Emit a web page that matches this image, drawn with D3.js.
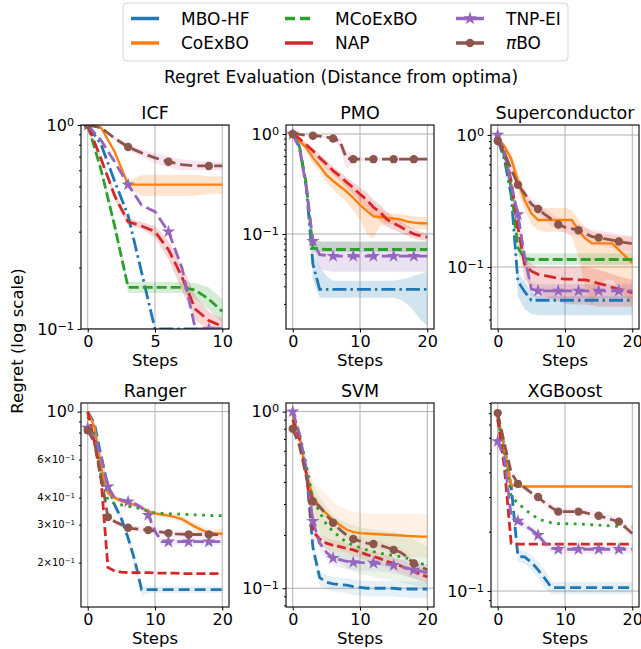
<!DOCTYPE html>
<html>
<head>
<meta charset="utf-8">
<script src="https://cdn.jsdelivr.net/npm/d3@7"></script>
<style>
  body { margin: 0; background: #fff; }
  text { font-family: "DejaVu Sans", sans-serif; }
</style>
</head>
<body>
<svg id="chart" width="641" height="649"></svg>
<script>
// ---- data ----
const methods = ["MBO-HF", "CoExBO", "MCoExBO", "NAP", "TNP-EI", "πBO"];

const stepsShort = [0, 1, 2, 3, 4, 5, 6, 7, 8, 9, 10];
const stepsLong = [0, 1, 2, 3, 4, 5, 6, 7, 8, 9, 10, 11, 12, 13, 14, 15, 16, 17, 18, 19, 20];

// ICF
const icfMean = {
  "MBO-HF": [1.0, 0.80, 0.53, 0.36, 0.19, 0.1, 0.1, 0.1, 0.1, 0.1, 0.1],
  "CoExBO": [1.0, 0.97, 0.74, 0.51, 0.51, 0.51, 0.51, 0.51, 0.51, 0.51, 0.51],
  "MCoExBO": [1.0, 0.6, 0.32, 0.16, 0.16, 0.16, 0.16, 0.16, 0.155, 0.14, 0.122],
  "NAP": [1.0, 0.68, 0.45, 0.335, 0.32, 0.3, 0.245, 0.18, 0.125, 0.11, 0.103],
  "TNP-EI": [1.0, 0.84, 0.66, 0.51, 0.405, 0.376, 0.3, 0.2, 0.1, 0.1, 0.1],
  "πBO": [1.0, 0.97, 0.86, 0.78, 0.73, 0.69, 0.66, 0.64, 0.63, 0.63, 0.63]
};
const icfLow = {
  "CoExBO": [1.0, 0.96, 0.72, 0.49, 0.45, 0.45, 0.45, 0.45, 0.45, 0.46, 0.46],
  "MCoExBO": [1.0, 0.58, 0.3, 0.15, 0.15, 0.15, 0.15, 0.15, 0.14, 0.125, 0.108],
  "NAP": [1.0, 0.66, 0.43, 0.32, 0.31, 0.28, 0.22, 0.155, 0.11, 0.1, 0.095],
  "πBO": [1.0, 0.96, 0.84, 0.75, 0.7, 0.65, 0.62, 0.6, 0.6, 0.6, 0.6]
};
const icfHigh = {
  "CoExBO": [1.0, 0.98, 0.76, 0.53, 0.57, 0.57, 0.57, 0.57, 0.57, 0.56, 0.56],
  "MCoExBO": [1.0, 0.62, 0.34, 0.17, 0.17, 0.17, 0.17, 0.17, 0.168, 0.16, 0.14],
  "NAP": [1.0, 0.7, 0.47, 0.35, 0.335, 0.32, 0.27, 0.205, 0.145, 0.122, 0.112],
  "πBO": [1.0, 0.98, 0.88, 0.81, 0.76, 0.73, 0.7, 0.68, 0.67, 0.66, 0.66]
};

// PMO
const pmoMean = {
  "MBO-HF": [1.0, 0.75, 0.3, 0.05, 0.028, 0.028, 0.028, 0.028, 0.028, 0.028, 0.028, 0.028, 0.028, 0.028, 0.028, 0.028, 0.028, 0.028, 0.028, 0.028, 0.028],
  "CoExBO": [1.0, 0.85, 0.73, 0.58, 0.48, 0.39, 0.34, 0.3, 0.265, 0.23, 0.195, 0.17, 0.15, 0.148, 0.145, 0.143, 0.14, 0.133, 0.13, 0.128, 0.128],
  "MCoExBO": [1.0, 0.75, 0.32, 0.072, 0.071, 0.07, 0.07, 0.07, 0.07, 0.07, 0.07, 0.07, 0.07, 0.07, 0.07, 0.07, 0.07, 0.07, 0.07, 0.07, 0.07],
  "NAP": [1.0, 0.9, 0.78, 0.68, 0.58, 0.5, 0.43, 0.38, 0.33, 0.29, 0.25, 0.22, 0.185, 0.165, 0.14, 0.128, 0.118, 0.108, 0.1, 0.096, 0.093],
  "TNP-EI": [1.0, 0.72, 0.3, 0.085, 0.062, 0.061, 0.06, 0.06, 0.06, 0.06, 0.06, 0.06, 0.06, 0.06, 0.06, 0.06, 0.06, 0.06, 0.06, 0.06, 0.06],
  "πBO": [1.0, 0.99, 0.97, 0.96, 0.95, 0.93, 0.9, 0.85, 0.57, 0.56, 0.56, 0.56, 0.56, 0.56, 0.56, 0.56, 0.56, 0.56, 0.56, 0.56, 0.56]
};
const pmoLow = {
  "MBO-HF": [1.0, 0.7, 0.26, 0.035, 0.023, 0.023, 0.023, 0.023, 0.023, 0.023, 0.023, 0.023, 0.023, 0.023, 0.023, 0.023, 0.022, 0.02, 0.017, 0.014, 0.012],
  "CoExBO": [1.0, 0.8, 0.66, 0.5, 0.42, 0.33, 0.28, 0.24, 0.21, 0.17, 0.14, 0.1, 0.09, 0.12, 0.125, 0.125, 0.12, 0.115, 0.112, 0.11, 0.11],
  "MCoExBO": [1.0, 0.72, 0.29, 0.065, 0.066, 0.066, 0.066, 0.066, 0.066, 0.066, 0.066, 0.066, 0.066, 0.066, 0.066, 0.066, 0.066, 0.066, 0.066, 0.066, 0.066],
  "NAP": [1.0, 0.87, 0.74, 0.63, 0.53, 0.45, 0.39, 0.34, 0.29, 0.25, 0.21, 0.18, 0.15, 0.135, 0.118, 0.11, 0.103, 0.096, 0.09, 0.087, 0.085],
  "TNP-EI": [1.0, 0.69, 0.27, 0.07, 0.045, 0.043, 0.042, 0.042, 0.042, 0.042, 0.042, 0.042, 0.042, 0.042, 0.042, 0.042, 0.042, 0.042, 0.042, 0.042, 0.042],
  "πBO": [1.0, 0.98, 0.96, 0.95, 0.93, 0.9, 0.86, 0.74, 0.45, 0.52, 0.53, 0.54, 0.54, 0.54, 0.54, 0.54, 0.54, 0.54, 0.54, 0.54, 0.54]
};
const pmoHigh = {
  "MBO-HF": [1.0, 0.8, 0.34, 0.065, 0.047, 0.038, 0.034, 0.034, 0.034, 0.034, 0.034, 0.034, 0.034, 0.034, 0.034, 0.034, 0.035, 0.036, 0.038, 0.04, 0.042],
  "CoExBO": [1.0, 0.9, 0.8, 0.66, 0.56, 0.47, 0.41, 0.37, 0.33, 0.29, 0.25, 0.22, 0.19, 0.175, 0.165, 0.16, 0.158, 0.155, 0.15, 0.148, 0.148],
  "MCoExBO": [1.0, 0.78, 0.35, 0.085, 0.084, 0.084, 0.084, 0.084, 0.084, 0.084, 0.084, 0.084, 0.084, 0.084, 0.084, 0.084, 0.084, 0.084, 0.084, 0.084, 0.084],
  "NAP": [1.0, 0.93, 0.82, 0.73, 0.63, 0.55, 0.47, 0.42, 0.37, 0.33, 0.29, 0.26, 0.22, 0.195, 0.165, 0.148, 0.135, 0.122, 0.112, 0.106, 0.102],
  "TNP-EI": [1.0, 0.75, 0.33, 0.09, 0.084, 0.084, 0.084, 0.084, 0.084, 0.084, 0.084, 0.084, 0.084, 0.084, 0.084, 0.084, 0.084, 0.084, 0.084, 0.084, 0.084],
  "πBO": [1.0, 1.0, 0.99, 0.98, 0.97, 0.96, 0.94, 0.92, 0.7, 0.6, 0.59, 0.58, 0.58, 0.58, 0.58, 0.58, 0.58, 0.58, 0.58, 0.58, 0.58]
};

// Superconductor
const supMean = {
  "MBO-HF": [0.93, 0.65, 0.35, 0.078, 0.065, 0.056, 0.056, 0.056, 0.056, 0.056, 0.056, 0.056, 0.056, 0.056, 0.056, 0.056, 0.056, 0.056, 0.056, 0.056, 0.056],
  "CoExBO": [0.95, 0.82, 0.66, 0.45, 0.32, 0.255, 0.227, 0.227, 0.227, 0.227, 0.227, 0.227, 0.19, 0.165, 0.151, 0.151, 0.151, 0.151, 0.135, 0.12, 0.107],
  "MCoExBO": [0.97, 0.7, 0.4, 0.14, 0.116, 0.114, 0.114, 0.114, 0.114, 0.114, 0.114, 0.114, 0.114, 0.114, 0.114, 0.114, 0.114, 0.114, 0.114, 0.114, 0.114],
  "NAP": [0.95, 0.75, 0.45, 0.2, 0.105, 0.093, 0.088, 0.086, 0.084, 0.082, 0.081, 0.081, 0.08, 0.08, 0.078, 0.075, 0.073, 0.07, 0.068, 0.066, 0.064],
  "TNP-EI": [1.0, 0.75, 0.42, 0.25, 0.12, 0.068, 0.066, 0.066, 0.066, 0.066, 0.066, 0.066, 0.066, 0.066, 0.066, 0.066, 0.066, 0.066, 0.066, 0.066, 0.066],
  "πBO": [0.9, 0.73, 0.55, 0.42, 0.36, 0.3, 0.275, 0.25, 0.23, 0.21, 0.2, 0.195, 0.19, 0.18, 0.17, 0.167, 0.163, 0.16, 0.156, 0.153, 0.15]
};
const supLow = {
  "MBO-HF": [0.91, 0.62, 0.32, 0.06, 0.048, 0.044, 0.043, 0.043, 0.043, 0.043, 0.043, 0.043, 0.043, 0.043, 0.043, 0.043, 0.043, 0.043, 0.043, 0.043, 0.043],
  "CoExBO": [0.93, 0.78, 0.6, 0.38, 0.27, 0.21, 0.19, 0.185, 0.185, 0.185, 0.185, 0.17, 0.12, 0.07, 0.05, 0.07, 0.08, 0.08, 0.07, 0.06, 0.05],
  "MCoExBO": [0.96, 0.67, 0.37, 0.125, 0.104, 0.104, 0.104, 0.104, 0.104, 0.104, 0.104, 0.104, 0.104, 0.104, 0.104, 0.104, 0.104, 0.104, 0.104, 0.104, 0.104],
  "NAP": [0.93, 0.72, 0.42, 0.17, 0.08, 0.07, 0.063, 0.06, 0.057, 0.055, 0.053, 0.052, 0.052, 0.052, 0.051, 0.05, 0.05, 0.05, 0.05, 0.05, 0.05],
  "TNP-EI": [1.0, 0.72, 0.39, 0.22, 0.1, 0.06, 0.058, 0.058, 0.058, 0.058, 0.058, 0.058, 0.058, 0.058, 0.058, 0.058, 0.058, 0.058, 0.058, 0.058, 0.058],
  "πBO": [0.88, 0.7, 0.52, 0.39, 0.33, 0.27, 0.25, 0.225, 0.205, 0.19, 0.18, 0.175, 0.17, 0.16, 0.15, 0.147, 0.143, 0.14, 0.136, 0.133, 0.13]
};
const supHigh = {
  "MBO-HF": [0.95, 0.68, 0.38, 0.09, 0.078, 0.064, 0.06, 0.06, 0.06, 0.06, 0.06, 0.06, 0.06, 0.06, 0.06, 0.06, 0.06, 0.06, 0.06, 0.06, 0.06],
  "CoExBO": [0.97, 0.86, 0.72, 0.52, 0.38, 0.3, 0.28, 0.28, 0.28, 0.28, 0.28, 0.27, 0.23, 0.2, 0.185, 0.18, 0.178, 0.175, 0.172, 0.17, 0.168],
  "MCoExBO": [0.98, 0.73, 0.43, 0.155, 0.127, 0.127, 0.127, 0.127, 0.127, 0.127, 0.127, 0.127, 0.127, 0.127, 0.127, 0.127, 0.127, 0.127, 0.127, 0.127, 0.127],
  "NAP": [0.97, 0.78, 0.48, 0.23, 0.12, 0.105, 0.1, 0.1, 0.1, 0.1, 0.1, 0.1, 0.1, 0.1, 0.098, 0.095, 0.092, 0.088, 0.085, 0.082, 0.08],
  "TNP-EI": [1.0, 0.78, 0.45, 0.28, 0.14, 0.076, 0.074, 0.074, 0.074, 0.074, 0.074, 0.074, 0.074, 0.074, 0.074, 0.074, 0.074, 0.074, 0.074, 0.074, 0.074],
  "πBO": [0.92, 0.76, 0.58, 0.45, 0.39, 0.33, 0.3, 0.275, 0.255, 0.235, 0.225, 0.218, 0.212, 0.202, 0.192, 0.188, 0.185, 0.182, 0.178, 0.175, 0.172]
};

// Ranger
const rangerMean = {
  "MBO-HF": [1.0, 0.88, 0.62, 0.45, 0.37, 0.32, 0.26, 0.205, 0.15, 0.15, 0.15, 0.15, 0.15, 0.15, 0.15, 0.15, 0.15, 0.15, 0.15, 0.15, 0.15],
  "CoExBO": [1.0, 0.85, 0.55, 0.42, 0.4, 0.385, 0.378, 0.37, 0.36, 0.345, 0.338, 0.334, 0.33, 0.325, 0.318, 0.305, 0.293, 0.283, 0.275, 0.273, 0.272],
  "MCoExBO": [0.95, 0.78, 0.5, 0.39, 0.375, 0.37, 0.365, 0.36, 0.355, 0.345, 0.34, 0.338, 0.337, 0.336, 0.335, 0.334, 0.333, 0.332, 0.331, 0.33, 0.33],
  "NAP": [1.0, 0.72, 0.48, 0.19, 0.183, 0.181, 0.18, 0.18, 0.18, 0.18, 0.179, 0.179, 0.179, 0.179, 0.178, 0.178, 0.178, 0.178, 0.178, 0.178, 0.178],
  "TNP-EI": [0.84, 0.76, 0.62, 0.45, 0.4, 0.39, 0.383, 0.375, 0.36, 0.332, 0.28, 0.25, 0.25, 0.25, 0.25, 0.25, 0.25, 0.25, 0.25, 0.25, 0.25],
  "πBO": [0.82, 0.72, 0.5, 0.325, 0.31, 0.3, 0.29, 0.287, 0.285, 0.283, 0.28, 0.277, 0.274, 0.272, 0.271, 0.27, 0.27, 0.27, 0.27, 0.27, 0.27]
};
const rangerLow = {
  "MBO-HF": [1.0, 0.86, 0.6, 0.43, 0.355, 0.305, 0.245, 0.19, 0.14, 0.145, 0.145, 0.145, 0.145, 0.145, 0.145, 0.145, 0.145, 0.145, 0.145, 0.145, 0.145],
  "CoExBO": [1.0, 0.83, 0.53, 0.41, 0.39, 0.375, 0.368, 0.36, 0.35, 0.335, 0.328, 0.324, 0.32, 0.314, 0.306, 0.293, 0.28, 0.27, 0.262, 0.26, 0.258],
  "TNP-EI": [0.82, 0.74, 0.6, 0.435, 0.39, 0.38, 0.372, 0.364, 0.35, 0.32, 0.27, 0.242, 0.242, 0.242, 0.242, 0.242, 0.242, 0.242, 0.242, 0.242, 0.242],
  "πBO": [0.8, 0.7, 0.48, 0.315, 0.3, 0.29, 0.28, 0.277, 0.275, 0.272, 0.269, 0.266, 0.263, 0.261, 0.26, 0.259, 0.259, 0.259, 0.259, 0.259, 0.259]
};
const rangerHigh = {
  "MBO-HF": [1.0, 0.9, 0.64, 0.47, 0.385, 0.335, 0.275, 0.22, 0.158, 0.155, 0.155, 0.155, 0.155, 0.155, 0.155, 0.155, 0.155, 0.155, 0.155, 0.155, 0.155],
  "CoExBO": [1.0, 0.87, 0.57, 0.43, 0.41, 0.395, 0.388, 0.38, 0.37, 0.355, 0.348, 0.344, 0.34, 0.336, 0.33, 0.318, 0.306, 0.296, 0.289, 0.287, 0.286],
  "TNP-EI": [0.86, 0.78, 0.64, 0.465, 0.41, 0.4, 0.394, 0.386, 0.37, 0.344, 0.29, 0.258, 0.258, 0.258, 0.258, 0.258, 0.258, 0.258, 0.258, 0.258, 0.258],
  "πBO": [0.84, 0.74, 0.52, 0.335, 0.32, 0.31, 0.3, 0.297, 0.295, 0.294, 0.291, 0.288, 0.285, 0.283, 0.282, 0.281, 0.281, 0.281, 0.281, 0.281, 0.281]
};

// SVM
const svmMean = {
  "MBO-HF": [0.98, 0.73, 0.47, 0.17, 0.115, 0.108, 0.106, 0.105, 0.104, 0.102, 0.101, 0.1, 0.1, 0.1, 0.1, 0.1, 0.099, 0.099, 0.099, 0.099, 0.099],
  "CoExBO": [0.94, 0.72, 0.45, 0.33, 0.29, 0.265, 0.244, 0.228, 0.215, 0.208, 0.205, 0.204, 0.203, 0.202, 0.201, 0.2, 0.199, 0.198, 0.197, 0.196, 0.196],
  "MCoExBO": [0.9, 0.75, 0.5, 0.32, 0.27, 0.23, 0.21, 0.195, 0.182, 0.175, 0.17, 0.165, 0.161, 0.158, 0.155, 0.153, 0.151, 0.148, 0.143, 0.138, 0.135],
  "NAP": [0.9, 0.7, 0.45, 0.21, 0.19, 0.18, 0.175, 0.172, 0.168, 0.165, 0.16, 0.155, 0.151, 0.147, 0.142, 0.138, 0.134, 0.129, 0.124, 0.12, 0.116],
  "TNP-EI": [1.0, 0.75, 0.47, 0.24, 0.18, 0.16, 0.148, 0.145, 0.142, 0.14, 0.14, 0.139, 0.139, 0.138, 0.137, 0.135, 0.133, 0.13, 0.127, 0.125, 0.122],
  "πBO": [0.8, 0.64, 0.43, 0.31, 0.29, 0.26, 0.235, 0.215, 0.2, 0.19, 0.185, 0.18, 0.178, 0.175, 0.17, 0.165, 0.16, 0.15, 0.138, 0.132, 0.127]
};
const svmLow = {
  "MBO-HF": [0.96, 0.7, 0.44, 0.15, 0.103, 0.098, 0.096, 0.095, 0.094, 0.092, 0.091, 0.09, 0.09, 0.09, 0.09, 0.09, 0.089, 0.089, 0.088, 0.088, 0.088],
  "CoExBO": [0.92, 0.66, 0.38, 0.25, 0.21, 0.19, 0.175, 0.165, 0.16, 0.155, 0.152, 0.15, 0.15, 0.15, 0.15, 0.15, 0.15, 0.15, 0.15, 0.15, 0.15],
  "MCoExBO": [0.88, 0.7, 0.44, 0.26, 0.2, 0.17, 0.15, 0.14, 0.13, 0.125, 0.12, 0.118, 0.116, 0.114, 0.112, 0.11, 0.108, 0.106, 0.104, 0.102, 0.1],
  "NAP": [0.88, 0.67, 0.42, 0.19, 0.175, 0.167, 0.163, 0.16, 0.156, 0.153, 0.148, 0.143, 0.139, 0.135, 0.13, 0.126, 0.122, 0.118, 0.114, 0.11, 0.106],
  "TNP-EI": [1.0, 0.72, 0.44, 0.22, 0.165, 0.146, 0.134, 0.131, 0.128, 0.126, 0.126, 0.125, 0.125, 0.124, 0.123, 0.121, 0.119, 0.116, 0.113, 0.111, 0.108],
  "πBO": [0.78, 0.62, 0.41, 0.295, 0.275, 0.247, 0.223, 0.204, 0.19, 0.18, 0.175, 0.17, 0.168, 0.165, 0.16, 0.155, 0.15, 0.14, 0.129, 0.123, 0.118]
};
const svmHigh = {
  "MBO-HF": [1.0, 0.76, 0.5, 0.19, 0.127, 0.118, 0.116, 0.115, 0.114, 0.112, 0.111, 0.11, 0.11, 0.11, 0.11, 0.11, 0.109, 0.109, 0.109, 0.109, 0.109],
  "CoExBO": [0.96, 0.78, 0.52, 0.4, 0.37, 0.34, 0.31, 0.29, 0.28, 0.272, 0.268, 0.266, 0.265, 0.265, 0.265, 0.265, 0.265, 0.265, 0.265, 0.265, 0.265],
  "MCoExBO": [0.92, 0.8, 0.56, 0.38, 0.33, 0.29, 0.26, 0.245, 0.235, 0.228, 0.222, 0.218, 0.215, 0.212, 0.21, 0.208, 0.205, 0.2, 0.19, 0.18, 0.17],
  "NAP": [0.92, 0.73, 0.48, 0.23, 0.205, 0.193, 0.187, 0.184, 0.18, 0.177, 0.172, 0.167, 0.163, 0.159, 0.154, 0.15, 0.146, 0.14, 0.135, 0.13, 0.126],
  "TNP-EI": [1.0, 0.78, 0.5, 0.26, 0.195, 0.174, 0.162, 0.159, 0.156, 0.154, 0.154, 0.153, 0.153, 0.152, 0.151, 0.149, 0.147, 0.144, 0.141, 0.139, 0.136],
  "πBO": [0.82, 0.66, 0.45, 0.325, 0.305, 0.273, 0.247, 0.226, 0.21, 0.2, 0.195, 0.19, 0.188, 0.185, 0.18, 0.175, 0.17, 0.16, 0.147, 0.141, 0.136]
};

// XGBoost
const xgbMean = {
  "MBO-HF": [0.77, 0.54, 0.34, 0.15, 0.149, 0.14, 0.128, 0.116, 0.104, 0.104, 0.104, 0.104, 0.104, 0.104, 0.104, 0.104, 0.104, 0.104, 0.104, 0.104, 0.104],
  "CoExBO": [0.77, 0.52, 0.345, 0.339, 0.339, 0.339, 0.339, 0.339, 0.339, 0.339, 0.339, 0.339, 0.339, 0.339, 0.339, 0.339, 0.339, 0.339, 0.339, 0.339, 0.339],
  "MCoExBO": [0.74, 0.5, 0.3, 0.28, 0.26, 0.245, 0.233, 0.226, 0.222, 0.22, 0.22, 0.219, 0.219, 0.218, 0.217, 0.216, 0.215, 0.214, 0.213, 0.212, 0.212],
  "NAP": [0.75, 0.42, 0.175, 0.173, 0.173, 0.173, 0.173, 0.173, 0.173, 0.173, 0.173, 0.173, 0.173, 0.173, 0.173, 0.173, 0.173, 0.173, 0.173, 0.173, 0.173],
  "TNP-EI": [0.575, 0.47, 0.24, 0.227, 0.215, 0.205, 0.192, 0.175, 0.165, 0.163, 0.163, 0.163, 0.163, 0.163, 0.163, 0.163, 0.163, 0.163, 0.163, 0.163, 0.163],
  "πBO": [0.8, 0.56, 0.4, 0.35, 0.335, 0.315, 0.3, 0.28, 0.265, 0.253, 0.253, 0.253, 0.253, 0.25, 0.245, 0.241, 0.236, 0.23, 0.225, 0.21, 0.196]
};
const xgbLow = {
  "MBO-HF": [0.75, 0.52, 0.32, 0.14, 0.138, 0.128, 0.116, 0.104, 0.097, 0.097, 0.097, 0.097, 0.097, 0.097, 0.097, 0.097, 0.097, 0.097, 0.097, 0.097, 0.097],
  "CoExBO": [0.76, 0.51, 0.335, 0.333, 0.333, 0.333, 0.333, 0.333, 0.333, 0.333, 0.333, 0.333, 0.333, 0.333, 0.333, 0.333, 0.333, 0.333, 0.333, 0.333, 0.333],
  "TNP-EI": [0.56, 0.455, 0.23, 0.217, 0.205, 0.195, 0.183, 0.167, 0.157, 0.155, 0.155, 0.155, 0.155, 0.155, 0.155, 0.155, 0.155, 0.155, 0.155, 0.155, 0.155],
  "πBO": [0.78, 0.54, 0.385, 0.338, 0.323, 0.303, 0.288, 0.268, 0.253, 0.241, 0.241, 0.241, 0.241, 0.238, 0.233, 0.229, 0.224, 0.218, 0.213, 0.198, 0.184]
};
const xgbHigh = {
  "MBO-HF": [0.79, 0.56, 0.36, 0.16, 0.16, 0.152, 0.14, 0.128, 0.111, 0.111, 0.111, 0.111, 0.111, 0.111, 0.111, 0.111, 0.111, 0.111, 0.111, 0.111, 0.111],
  "CoExBO": [0.78, 0.53, 0.355, 0.345, 0.345, 0.345, 0.345, 0.345, 0.345, 0.345, 0.345, 0.345, 0.345, 0.345, 0.345, 0.345, 0.345, 0.345, 0.345, 0.345, 0.345],
  "TNP-EI": [0.59, 0.485, 0.25, 0.237, 0.225, 0.215, 0.201, 0.183, 0.173, 0.171, 0.171, 0.171, 0.171, 0.171, 0.171, 0.171, 0.171, 0.171, 0.171, 0.171, 0.171],
  "πBO": [0.82, 0.58, 0.415, 0.362, 0.347, 0.327, 0.312, 0.292, 0.277, 0.265, 0.265, 0.265, 0.265, 0.262, 0.257, 0.253, 0.248, 0.242, 0.237, 0.222, 0.208]
};

// ---- styling ----
const FONT = "DejaVu Sans";
const colors = {"MBO-HF": "#1f77b4", "CoExBO": "#ff7f0e", "MCoExBO": "#2ca02c", "NAP": "#d62728", "TNP-EI": "#9467bd", "πBO": "#8c564b"};
const bandColors = {"MBO-HF": "#1f77b4", "CoExBO": "#ff7f0e", "MCoExBO": "#2ca02c", "NAP": "#d62728", "TNP-EI": "#9467bd", "πBO": "#e377c2"};
const dashTop = {"MBO-HF": "14,4,2.5,4", "CoExBO": null, "MCoExBO": "10,4", "NAP": "12,5", "TNP-EI": "12,5", "πBO": "12,5"};
const dashBottom = {"MBO-HF": "11,5", "CoExBO": null, "MCoExBO": "2.8,5.5", "NAP": "9,4", "TNP-EI": "11,5", "πBO": "11,5"};

const PW = 148, PH = 204;
const TICK_FS = 16;

const panels = [
  {title: "ICF", steps: stepsShort, mean: icfMean, low: icfLow, high: icfHigh, left: 81, top: 125, bandAlpha: 0.2,
   xDom: [-0.5, 10.5], yDom: [0.1, 1.0], xTicks: [0, 5, 10], yMajor: [1, 0.1], yMinorLab: [], dash: dashTop},
  {title: "PMO", steps: stepsLong, mean: pmoMean, low: pmoLow, high: pmoHigh, left: 286, top: 125, bandAlpha: 0.2,
   xDom: [-1, 21], yDom: [0.01122, 1.23], xTicks: [0, 10, 20], yMajor: [1, 0.1], yMinorLab: [], dash: dashTop},
  {title: "Superconductor", steps: stepsLong, mean: supMean, low: supLow, high: supHigh, left: 491, top: 125, bandAlpha: 0.2,
   xDom: [-1, 21], yDom: [0.0339, 1.191], xTicks: [0, 10, 20], yMajor: [1, 0.1], yMinorLab: [], dash: dashTop},
  {title: "Ranger", steps: stepsLong, mean: rangerMean, low: rangerLow, high: rangerHigh, left: 81, top: 403, bandAlpha: 0.12,
   xDom: [-1, 21], yDom: [0.1247, 1.096], xTicks: [0, 10, 20], yMajor: [1], yMinorLab: [0.6, 0.4, 0.3, 0.2], dash: dashBottom},
  {title: "SVM", steps: stepsLong, mean: svmMean, low: svmLow, high: svmHigh, left: 286, top: 403, bandAlpha: 0.11,
   xDom: [-1, 21], yDom: [0.0783, 1.119], xTicks: [0, 10, 20], yMajor: [1, 0.1], yMinorLab: [], dash: dashBottom},
  {title: "XGBoost", steps: stepsLong, mean: xgbMean, low: xgbLow, high: xgbHigh, left: 491, top: 403, bandAlpha: 0.12,
   xDom: [-1, 21], yDom: [0.083, 0.9], xTicks: [0, 10, 20], yMajor: [0.1], yMinorLab: [], dash: dashBottom}
];

const svg = d3.select("#chart");
svg.append("rect").attr("width", 641).attr("height", 649).attr("fill", "#fff");

function powLabel(sel, mult, exp, size) {
  sel.text(null);
  if (mult) sel.append("tspan").text(mult + "×");
  sel.append("tspan").text("10");
  sel.append("tspan").attr("dy", "-0.45em").attr("font-size", size * 0.7)
    .text(exp < 0 ? "−" + (-exp) : String(exp));
}

panels.forEach((p, i) => {
  const g = svg.append("g");
  const x = d3.scaleLinear().domain(p.xDom).range([p.left, p.left + PW]);
  const y = d3.scaleLog().domain(p.yDom).range([p.top + PH, p.top]);
  const clipId = "clip" + i;
  g.append("clipPath").attr("id", clipId).append("rect")
    .attr("x", p.left).attr("y", p.top).attr("width", PW).attr("height", PH);

  // grid
  const grid = g.append("g").attr("stroke", "#b0b0b0").attr("stroke-width", 1).attr("clip-path", `url(#${clipId})`);
  p.xTicks.forEach(t => grid.append("line").attr("x1", x(t)).attr("x2", x(t)).attr("y1", p.top).attr("y2", p.top + PH));
  p.yMajor.forEach(t => grid.append("line").attr("x1", p.left).attr("x2", p.left + PW).attr("y1", y(t)).attr("y2", y(t)));

  const plot = g.append("g").attr("clip-path", `url(#${clipId})`);

  // bands
  methods.forEach(m => {
    if (!p.low[m]) return;
    const area = d3.area()
      .x((d, k) => x(p.steps[k]))
      .y0((d, k) => y(p.low[m][k]))
      .y1((d, k) => y(p.high[m][k]));
    plot.append("path").attr("d", area(p.mean[m]))
      .attr("fill", bandColors[m]).attr("fill-opacity", p.bandAlpha);
  });

  // lines and markers
  methods.forEach(m => {
    const line = d3.line().x((d, k) => x(p.steps[k])).y(d => y(d));
    plot.append("path").attr("d", line(p.mean[m]))
      .attr("fill", "none").attr("stroke", colors[m])
      .attr("stroke-width", p.dash[m] ? 2.8 : 2.4)
      .attr("stroke-dasharray", p.dash[m]);
    const marks = p.steps.map((s, k) => [s, p.mean[m][k]]).filter(d => d[0] % 3 === 0);
    if (m === "TNP-EI") {
      plot.selectAll(null).data(marks).enter().append("path")
        .attr("d", d3.symbol(d3.symbolStar, 55))
        .attr("transform", d => `translate(${x(d[0])},${y(d[1])})`)
        .attr("fill", colors[m]);
    }
    if (m === "πBO") {
      plot.selectAll(null).data(marks).enter().append("circle")
        .attr("cx", d => x(d[0])).attr("cy", d => y(d[1])).attr("r", 4.2)
        .attr("fill", colors[m]);
    }
  });

  // frame
  g.append("rect").attr("x", p.left).attr("y", p.top).attr("width", PW).attr("height", PH)
    .attr("fill", "none").attr("stroke", "#000").attr("stroke-width", 1.1);

  // x axis
  const xa = g.append("g").attr("transform", `translate(0,${p.top + PH})`)
    .call(d3.axisBottom(x).tickValues(p.xTicks).tickSize(3.5).tickPadding(3));
  xa.select(".domain").remove();
  xa.attr("font-size", TICK_FS).attr("font-family", FONT);

  // y axis major
  const ya = g.append("g").attr("transform", `translate(${p.left},0)`)
    .call(d3.axisLeft(y).tickValues(p.yMajor).tickSize(3.5).tickPadding(3.5));
  ya.select(".domain").remove();
  ya.attr("font-size", TICK_FS).attr("font-family", FONT);
  ya.selectAll(".tick text").each(function (d) {
    powLabel(d3.select(this), null, Math.round(Math.log10(d)), TICK_FS);
  });

  // y axis minor ticks
  const minors = y.ticks().filter(v => p.yMajor.every(mj => Math.abs(mj - v) > 1e-9));
  const unl = minors.filter(v => p.yMinorLab.every(l => Math.abs(l - v) > 1e-9));
  const ym = g.append("g").attr("transform", `translate(${p.left},0)`)
    .call(d3.axisLeft(y).tickValues(unl).tickSize(2).tickFormat(""));
  ym.select(".domain").remove();
  if (p.yMinorLab.length) {
    const yl = g.append("g").attr("transform", `translate(${p.left},0)`)
      .call(d3.axisLeft(y).tickValues(p.yMinorLab).tickSize(2).tickPadding(4));
    yl.select(".domain").remove();
    yl.attr("font-size", 10).attr("font-family", FONT);
    yl.selectAll(".tick text").each(function (d) {
      const e = Math.floor(Math.log10(d) + 1e-9);
      powLabel(d3.select(this), Math.round(d / Math.pow(10, e)), e, 10);
    });
  }

  // title and x label
  g.append("text").attr("x", p.left + PW / 2).attr("y", p.top - 6)
    .attr("text-anchor", "middle").attr("font-size", 17.5).text(p.title);
  g.append("text").attr("x", p.left + PW / 2).attr("y", p.top + PH + 37)
    .attr("text-anchor", "middle").attr("font-size", 16.5).text("Steps");
});

// y label
svg.append("text").attr("transform", "translate(23,341) rotate(-90)")
  .attr("text-anchor", "middle").attr("font-size", 16.5).text("Regret (log scale)");

// subtitle
svg.append("text").attr("x", 341).attr("y", 83).attr("text-anchor", "middle")
  .attr("font-size", 17).text("Regret Evaluation (Distance from optima)");

// legend
const lg = svg.append("g").attr("font-size", 17);
lg.append("rect").attr("x", 123).attr("y", 3).attr("width", 445).attr("height", 58).attr("rx", 4)
  .attr("fill", "#fff").attr("stroke", "#d5d5d5").attr("stroke-width", 1);
const legendDash = {"MBO-HF": null, "CoExBO": null, "MCoExBO": "10,5", "NAP": null, "TNP-EI": null, "πBO": null};
const colX = [131, 285, 456];
const rowY = [18.5, 43];
methods.forEach((m, k) => {
  const cx = colX[Math.floor(k / 2)], cy = rowY[k % 2];
  lg.append("line").attr("x1", cx).attr("x2", cx + 28).attr("y1", cy).attr("y2", cy)
    .attr("stroke", colors[m]).attr("stroke-width", 3.5).attr("stroke-dasharray", legendDash[m]);
  if (m === "TNP-EI") lg.append("path").attr("d", d3.symbol(d3.symbolStar, 55)).attr("transform", `translate(${cx + 14},${cy})`).attr("fill", colors[m]);
  if (m === "πBO") lg.append("circle").attr("cx", cx + 14).attr("cy", cy).attr("r", 4.2).attr("fill", colors[m]);
  const t = lg.append("text").attr("x", cx + 50).attr("y", cy + 6);
  if (m === "πBO") {
    t.append("tspan").attr("font-style", "italic").text("π");
    t.append("tspan").text("BO");
  } else t.text(m);
});
</script>
</body>
</html>
